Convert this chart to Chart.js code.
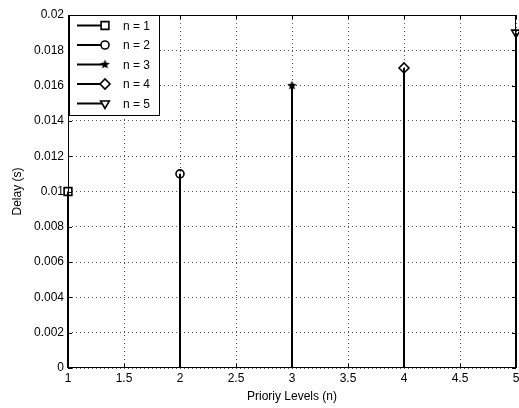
<!DOCTYPE html>
<html>
<head>
<meta charset="UTF-8">
<title>Delay vs Priority Levels</title>
<script src="https://cdn.jsdelivr.net/npm/chart.js"></script>
<style>
  html, body { margin: 0; padding: 0; background: #fff; }
  #wrap { width: 519px; height: 408px; }
</style>
</head>
<body>
<div id="wrap"><canvas id="stemChart"></canvas></div>
<script>
// data
const levels = [1, 2, 3, 4, 5];
const delays = [0.010, 0.011, 0.016, 0.017, 0.019];
const seriesNames = ['n = 1', 'n = 2', 'n = 3', 'n = 4', 'n = 5'];
const yTicks = [0, 0.002, 0.004, 0.006, 0.008, 0.01, 0.012, 0.014, 0.016, 0.018, 0.02];
const xTicks = [1, 1.5, 2, 2.5, 3, 3.5, 4, 4.5, 5];

const FONT = 'Arial, "Liberation Sans", sans-serif';

// pentagram marker (matlab '*' like in the figure)
function makeStar(size) {
    const c = document.createElement('canvas');
    c.width = size; c.height = size;
    const g = c.getContext('2d');
    const cx = size / 2, cy = size / 2, R = size / 2 - 0.5, r = R * 0.45;
    g.beginPath();
    for (let i = 0; i < 10; i++) {
        const a = -Math.PI / 2 + i * Math.PI / 5;
        const rr = i % 2 ? r : R;
        g.lineTo(cx + rr * Math.cos(a), cy + rr * Math.sin(a));
    }
    g.closePath();
    g.fillStyle = '#000';
    g.fill();
    return c;
}
const star = makeStar(11);

const markers = [
    { pointStyle: 'rect', rotation: 0, radius: 5.5 },
    { pointStyle: 'circle', rotation: 0, radius: 4 },
    { pointStyle: star, rotation: 0, radius: 5 },
    { pointStyle: 'rectRot', rotation: 0, radius: 5 },
    { pointStyle: 'triangle', rotation: 180, radius: 5 }
];

const datasets = levels.map((x, i) => ({
    label: seriesNames[i],
    data: [{ x: x, y: 0 }, { x: x, y: delays[i] }],
    borderColor: '#000',
    borderWidth: 2,
    backgroundColor: 'rgba(0,0,0,0)',
    pointStyle: markers[i].pointStyle,
    pointRotation: markers[i].rotation,
    pointRadius: [0, markers[i].radius],
    pointBorderWidth: 1.6,
    pointBorderColor: '#000',
    pointBackgroundColor: 'rgba(0,0,0,0)',
    clip: false
}));

// box, inward ticks and legend like matlab
const matlabFrame = {
    id: 'matlabFrame',
    afterDraw(chart) {
        const ctx = chart.ctx;
        const a = chart.chartArea;
        const xs = chart.scales.x, ys = chart.scales.y;
        ctx.save();
        ctx.strokeStyle = '#000';
        ctx.lineWidth = 1;
        ctx.strokeRect(Math.round(a.left) + 0.5, Math.round(a.top) + 0.5,
            Math.round(a.right - a.left) - 1, Math.round(a.bottom - a.top) - 1);
        ctx.beginPath();
        xTicks.forEach(v => {
            const px = Math.round(xs.getPixelForValue(v)) + 0.5;
            ctx.moveTo(px, a.bottom); ctx.lineTo(px, a.bottom - 4);
            ctx.moveTo(px, a.top); ctx.lineTo(px, a.top + 4);
        });
        yTicks.forEach(v => {
            const py = Math.round(ys.getPixelForValue(v)) + 0.5;
            ctx.moveTo(a.left, py); ctx.lineTo(a.left + 4, py);
            ctx.moveTo(a.right, py); ctx.lineTo(a.right - 4, py);
        });
        ctx.stroke();

        // legend
        const lx = Math.round(a.left) + 1, ly = Math.round(a.top), lw = 90, lh = 100;
        ctx.fillStyle = '#fff';
        ctx.fillRect(lx, ly, lw, lh);
        ctx.strokeRect(lx + 0.5, ly + 0.5, lw, lh);
        ctx.font = '12px ' + FONT;
        ctx.textBaseline = 'middle';
        seriesNames.forEach((name, i) => {
            const y = ly + 10.5 + i * 19.5;
            ctx.strokeStyle = '#000';
            ctx.lineWidth = 2;
            ctx.beginPath();
            ctx.moveTo(lx + 8, y); ctx.lineTo(lx + 36, y);
            ctx.stroke();
            ctx.lineWidth = 1.6;
            ctx.fillStyle = '#fff';
            Chart.helpers.drawPoint(ctx, {
                pointStyle: markers[i].pointStyle,
                rotation: markers[i].rotation,
                radius: markers[i].radius,
                borderWidth: 1.6
            }, lx + 36, y);
            ctx.fillStyle = '#000';
            ctx.fillText(name, lx + 54, y + 1);
        });
        ctx.restore();
    }
};

new Chart(document.getElementById('stemChart'), {
    type: 'line',
    data: { datasets: datasets },
    plugins: [matlabFrame],
    options: {
        responsive: true,
        maintainAspectRatio: false,
        animation: false,
        layout: { autoPadding: false, padding: { top: 15, right: 3, left: 0, bottom: 0 } },
        plugins: { legend: { display: false }, tooltip: { enabled: false } },
        scales: {
            x: {
                type: 'linear',
                min: 1, max: 5,
                afterBuildTicks(s) { s.ticks = xTicks.map(v => ({ value: v })); },
                afterFit(s) { s.height = 40; s.paddingRight = 0; s.paddingLeft = 0; },
                ticks: {
                    color: '#000', padding: 3,
                    font: { family: FONT, size: 12 },
                    maxRotation: 0,
                    callback: v => String(v)
                },
                grid: { color: '#555', drawTicks: false },
                border: { display: false, dash: [1, 3] },
                title: {
                    display: true, text: 'Prioriy Levels (n)', color: '#000', padding: { top: 0, bottom: 4 },
                    font: { family: FONT, size: 12 }
                }
            },
            y: {
                type: 'linear',
                min: 0, max: 0.02,
                afterBuildTicks(s) { s.ticks = yTicks.map(v => ({ value: v })); },
                afterFit(s) { s.width = 68; s.paddingTop = 0; s.paddingBottom = 0; },
                ticks: {
                    color: '#000', padding: 4,
                    font: { family: FONT, size: 12 },
                    callback: v => String(parseFloat(v.toFixed(3)))
                },
                grid: { color: '#555', drawTicks: false },
                border: { display: false, dash: [1, 3] },
                title: {
                    display: true, text: 'Delay (s)', color: '#000', padding: { top: 10, bottom: 0 },
                    font: { family: FONT, size: 12 }
                }
            }
        }
    }
});
</script>
</body>
</html>
